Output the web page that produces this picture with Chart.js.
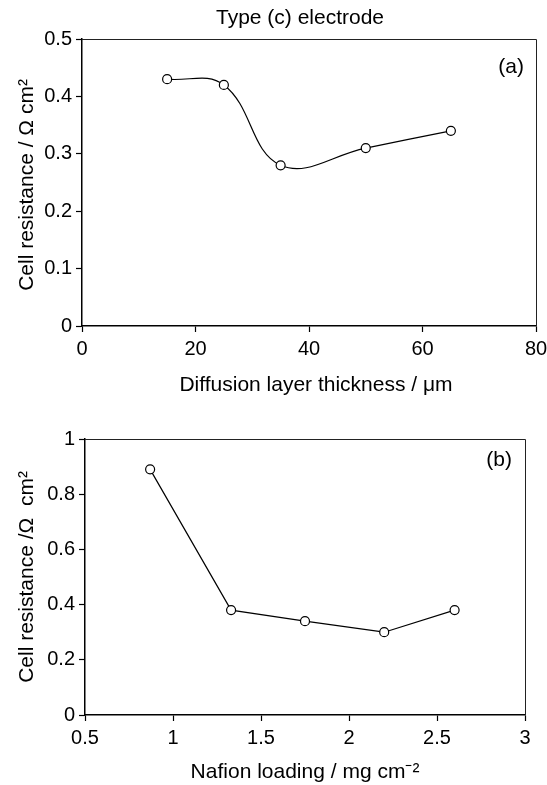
<!DOCTYPE html>
<html>
<head>
<meta charset="utf-8">
<script src="https://cdn.jsdelivr.net/npm/chart.js@4/dist/chart.umd.min.js"></script>
<style>
  html, body { margin: 0; padding: 0; background: #fff; }
  #wrap { position: relative; width: 547px; height: 785px; }
  .box { position: absolute; left: 0; width: 547px; }
  #boxA { top: 0; height: 395px; }
  #boxB { top: 395px; height: 390px; }
</style>
</head>
<body>
<div id="wrap">
  <div class="box" id="boxA"><canvas id="chartA"></canvas></div>
  <div class="box" id="boxB"><canvas id="chartB"></canvas></div>
</div>
<script>
// ---- Data: panel (a) ----
const thicknessUm = [15, 25, 35, 50, 65];
const resistanceA = [0.43, 0.42, 0.28, 0.31, 0.34];
const xTicksA = [0, 20, 40, 60, 80];
const yTicksA = [0, 0.1, 0.2, 0.3, 0.4, 0.5];

// ---- Data: panel (b) ----
const nafionLoading = [0.87, 1.33, 1.75, 2.2, 2.6];
const resistanceB = [0.89, 0.38, 0.34, 0.30, 0.38];
const xTicksB = [0.5, 1, 1.5, 2, 2.5, 3];
const yTicksB = [0, 0.2, 0.4, 0.6, 0.8, 1];

// ---- Text ----
const mainTitle = 'Type (c) electrode';
const xTitleA = 'Diffusion layer thickness / \u03bcm';
const yTitleA = 'Cell resistance / \u03a9 cm\u00b2';
const xTitleB = 'Nafion loading / mg cm\u207b\u00b2';
const yTitleB = 'Cell resistance /\u03a9  cm\u00b2';

const FONT = '"Liberation Sans", Arial, sans-serif';

function makePoints(xs, ys) { return xs.map((x, i) => ({ x: x, y: ys[i] })); }

function decorPlugin(cfg) {
  return {
    id: 'decor',
    afterDraw(chart) {
      const ctx = chart.ctx, a = chart.chartArea;
      ctx.save();
      ctx.strokeStyle = '#222'; ctx.lineWidth = 1;
      ctx.beginPath();
      ctx.moveTo(a.left, a.top + 0.5); ctx.lineTo(a.right + 0.5, a.top + 0.5); ctx.lineTo(a.right + 0.5, a.bottom);
      ctx.stroke();
      ctx.fillStyle = '#000';
      ctx.textBaseline = 'middle';
      if (cfg.title) {
        ctx.font = cfg.titleSize + 'px ' + FONT;
        ctx.textAlign = 'center';
        ctx.fillText(cfg.title, cfg.titleX, cfg.titleY);
      }
      ctx.font = cfg.labelSize + 'px ' + FONT;
      ctx.textAlign = 'right';
      ctx.fillText(cfg.label, cfg.labelX, cfg.labelY);
      ctx.font = cfg.axisSize + 'px ' + FONT;
      ctx.textAlign = 'center';
      ctx.fillText(cfg.xTitle, cfg.xTitleX, cfg.xTitleY);
      ctx.translate(cfg.yTitleX, cfg.yTitleY);
      ctx.rotate(-Math.PI / 2);
      ctx.fillText(cfg.yTitle, 0, 0);
      ctx.restore();
    }
  };
}

function makeChart(id, xs, ys, xMin, xMax, xTicks, yMin, yMax, yTicks, tension, pad, yWidth, xHeight, decor) {
  return new Chart(document.getElementById(id), {
    type: 'line',
    data: {
      datasets: [{
        data: makePoints(xs, ys),
        borderColor: '#000',
        borderWidth: 1.2,
        tension: tension,
        pointRadius: 4.5,
        pointHoverRadius: 4.5,
        pointBackgroundColor: '#fff',
        pointBorderColor: '#000',
        pointBorderWidth: 1.2,
        fill: false
      }]
    },
    options: {
      responsive: true,
      maintainAspectRatio: false,
      animation: false,
      events: [],
      layout: { padding: pad },
      plugins: { legend: { display: false }, tooltip: { enabled: false } },
      scales: {
        x: {
          type: 'linear', min: xMin, max: xMax,
          afterBuildTicks(s) { s.ticks = xTicks.map(v => ({ value: v })); },
          afterFit(s) { s.height = xHeight; s.paddingLeft = 0; s.paddingRight = 0; },
          grid: { drawOnChartArea: false, drawTicks: true, tickLength: 6, tickColor: '#000', tickWidth: 1.2 },
          border: { color: '#000', width: 1.5 },
          ticks: { color: '#000', font: { family: FONT, size: 20 }, padding: 5, maxRotation: 0,
                   callback: v => String(v) }
        },
        y: {
          type: 'linear', min: yMin, max: yMax,
          afterBuildTicks(s) { s.ticks = yTicks.map(v => ({ value: v })); },
          afterFit(s) { s.width = yWidth; s.paddingTop = 0; s.paddingBottom = 0; },
          grid: { drawOnChartArea: false, drawTicks: true, tickLength: 6, tickColor: '#000', tickWidth: 1.2 },
          border: { color: '#000', width: 1.5 },
          ticks: { color: '#000', font: { family: FONT, size: 20 }, padding: 4,
                   callback: v => String(v) }
        }
      }
    },
    plugins: [decorPlugin(decor)]
  });
}

makeChart('chartA', thicknessUm, resistanceA, 0, 80, xTicksA, 0, 0.5, yTicksA, 0.4,
  { top: 39, right: 11, left: 0, bottom: 0 }, 82, 69,
  { title: mainTitle, titleSize: 21, titleX: 300, titleY: 18,
    label: '(a)', labelSize: 21, labelX: 524, labelY: 67,
    axisSize: 21, xTitle: xTitleA, xTitleX: 316, xTitleY: 385,
    yTitle: yTitleA, yTitleX: 27, yTitleY: 185 });

makeChart('chartB', nafionLoading, resistanceB, 0.5, 3, xTicksB, 0, 1, yTicksB, 0,
  { top: 44, right: 22, left: 0, bottom: 0 }, 85, 70,
  { title: null,
    label: '(b)', labelSize: 21, labelX: 512, labelY: 65,
    axisSize: 21, xTitle: xTitleB, xTitleX: 305, xTitleY: 377,
    yTitle: yTitleB, yTitleX: 27, yTitleY: 182 });
</script>
</body>
</html>
